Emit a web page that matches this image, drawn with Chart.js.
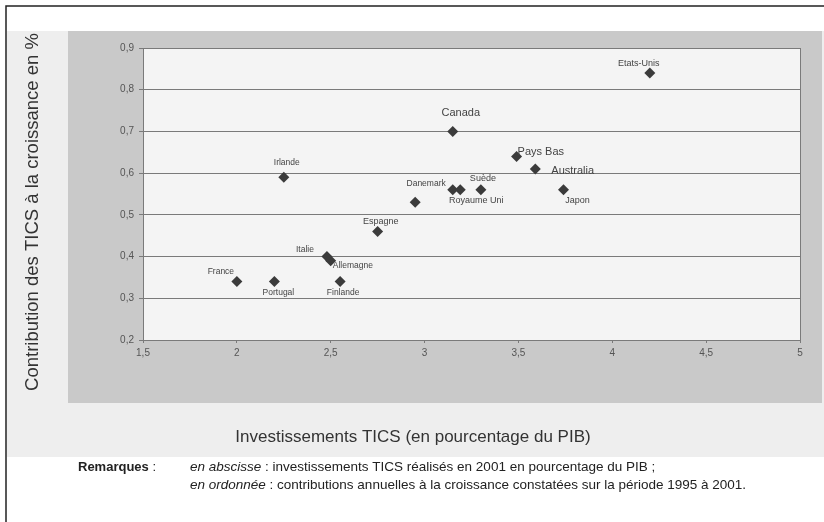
<!DOCTYPE html>
<html>
<head>
<meta charset="utf-8">
<script src="https://cdn.jsdelivr.net/npm/chart.js@4.4.0/dist/chart.umd.min.js"></script>
<style>
  html, body { margin: 0; padding: 0; background: #fff; }
  #wrap { width: 824px; height: 522px; position: relative; }
</style>
</head>
<body>
<div id="wrap"><canvas id="chart" width="824" height="522"></canvas></div>
<script>
// Données
const pays = ['Etats-Unis', 'Canada', 'Pays Bas', 'Australia', 'Japon', 'Danemark', 'Royaume Uni', 'Suède',
  '', 'Espagne', 'Irlande', 'Italie', 'Allemagne', 'France', 'Portugal', 'Finlande'];
const investissements = [4.2, 3.15, 3.49, 3.59, 3.74, 3.15, 3.19, 3.3, 2.95, 2.75, 2.25, 2.48, 2.5, 2.0, 2.2, 2.55];
const contributions = [0.84, 0.70, 0.64, 0.61, 0.56, 0.56, 0.56, 0.56, 0.53, 0.46, 0.59, 0.40, 0.39, 0.34, 0.34, 0.34];
const xTicks = [1.5, 2, 2.5, 3, 3.5, 4, 4.5, 5];
const yTicks = [0.2, 0.3, 0.4, 0.5, 0.6, 0.7, 0.8, 0.9];

// position des étiquettes (décalage en px, alignement, taille)
const etiquettes = {
  'Etats-Unis': [-11, -10, 'center', 9],
  'Canada': [8, -18, 'center', 11],
  'Pays Bas': [1, -4, 'left', 11],
  'Australia': [16, 2, 'left', 11],
  'Japon': [14, 11, 'center', 9],
  'Danemark': [-7, -6, 'right', 8.5],
  'Royaume Uni': [16, 11, 'center', 9],
  'Suède': [2, -11, 'center', 9],
  'Espagne': [3, -10, 'center', 9],
  'Irlande': [3, -15, 'center', 8.5],
  'Italie': [-22, -7, 'center', 8.5],
  'Allemagne': [2, 5, 'left', 8.5],
  'France': [-16, -10, 'center', 8.5],
  'Portugal': [4, 11, 'center', 8.5],
  'Finlande': [3, 11, 'center', 8.5]
};

const fmt = v => String(v).replace('.', ',');

// fonds, cadre, titres et remarques
const decor = {
  id: 'decor',
  beforeDraw(chart) {
    const c = chart.ctx, a = chart.chartArea;
    c.save();
    c.fillStyle = '#fff';
    c.fillRect(0, 0, 824, 522);
    c.fillStyle = '#eeeeee';
    c.fillRect(7, 31, 817, 426);
    c.fillStyle = '#c9c9c9';
    c.fillRect(68, 31, 754, 372);
    c.fillStyle = '#f4f4f4';
    c.fillRect(a.left, a.top, a.right - a.left, a.bottom - a.top);
    // cadre extérieur
    c.strokeStyle = '#222';
    c.lineWidth = 1.5;
    c.beginPath();
    c.moveTo(6, 522); c.lineTo(6, 6); c.lineTo(824, 6);
    c.stroke();
    c.restore();
  },
  afterDraw(chart) {
    const c = chart.ctx, a = chart.chartArea;
    c.save();
    c.strokeStyle = '#7a7a7a';
    c.lineWidth = 1;
    c.beginPath();
    c.moveTo(a.right + 0.5, a.top); c.lineTo(a.right + 0.5, a.bottom);
    c.stroke();

    // étiquettes des pays
    const meta = chart.getDatasetMeta(0);
    c.fillStyle = '#444';
    c.textBaseline = 'middle';
    meta.data.forEach((pt, i) => {
      const e = etiquettes[pays[i]];
      if (!e) return;
      c.font = e[3] + 'px "Liberation Sans", Arial, sans-serif';
      c.textAlign = e[2];
      c.fillText(pays[i], pt.x + e[0], pt.y + e[1]);
    });

    // titres des axes
    c.fillStyle = '#333';
    c.font = '18.5px "Liberation Sans", Arial, sans-serif';
    c.textAlign = 'center';
    c.save();
    c.translate(33, 212);
    c.rotate(-Math.PI / 2);
    c.fillText('Contribution des TICS à la croissance en %', 0, 0);
    c.restore();
    c.font = '17px "Liberation Sans", Arial, sans-serif';
    c.fillText('Investissements TICS (en pourcentage du PIB)', 413, 437);

    // remarques
    c.textAlign = 'left';
    c.fillStyle = '#222';
    c.font = 'bold 13px "Liberation Sans", Arial, sans-serif';
    c.fillText('Remarques', 78, 467);
    const w = c.measureText('Remarques').width;
    c.font = '13px "Liberation Sans", Arial, sans-serif';
    c.fillText(' :', 78 + w, 467);
    const lignes = [
      ['en abscisse', ' : investissements TICS réalisés en 2001 en pourcentage du PIB ;'],
      ['en ordonnée', ' : contributions annuelles à la croissance constatées sur la période 1995 à 2001.']
    ];
    lignes.forEach((l, k) => {
      const y = 467 + k * 18;
      c.font = 'italic 13.5px "Liberation Sans", Arial, sans-serif';
      c.fillText(l[0], 190, y);
      const wi = c.measureText(l[0]).width;
      c.font = '13.5px "Liberation Sans", Arial, sans-serif';
      c.fillText(l[1], 190 + wi, y);
    });
    c.restore();
  }
};

new Chart(document.getElementById('chart'), {
  type: 'scatter',
  data: {
    datasets: [{
      data: investissements.map((x, i) => ({ x, y: contributions[i] })),
      pointStyle: 'rectRot',
      pointRadius: 5.5,
      pointHoverRadius: 5.5,
      backgroundColor: '#3b3b3b',
      borderColor: '#3b3b3b',
      borderWidth: 0
    }]
  },
  options: {
    responsive: false,
    animation: false,
    events: [],
    layout: { padding: { left: 68, right: 24, top: 48, bottom: 152 } },
    plugins: { legend: { display: false }, tooltip: { enabled: false } },
    scales: {
      x: {
        type: 'linear', min: 1.5, max: 5,
        afterBuildTicks: s => { s.ticks = xTicks.map(v => ({ value: v })); },
        afterFit: s => { s.height = 30; },
        ticks: { color: '#555', padding: 4, font: { size: 10, family: '"Liberation Sans", Arial' }, callback: v => fmt(v) },
        grid: { drawOnChartArea: false, drawTicks: true, tickLength: 3, color: '#7a7a7a' },
        border: { color: '#7a7a7a', width: 1 }
      },
      y: {
        type: 'linear', min: 0.2, max: 0.9,
        afterBuildTicks: s => { s.ticks = yTicks.map(v => ({ value: v })); },
        afterFit: s => { s.width = 75; },
        ticks: { color: '#555', padding: 5, font: { size: 10, family: '"Liberation Sans", Arial' }, callback: v => fmt(Math.round(v * 10) / 10) },
        grid: { color: '#7a7a7a', lineWidth: 1, tickLength: 4 },
        border: { color: '#7a7a7a', width: 1 }
      }
    }
  },
  plugins: [decor]
});
</script>
</body>
</html>
